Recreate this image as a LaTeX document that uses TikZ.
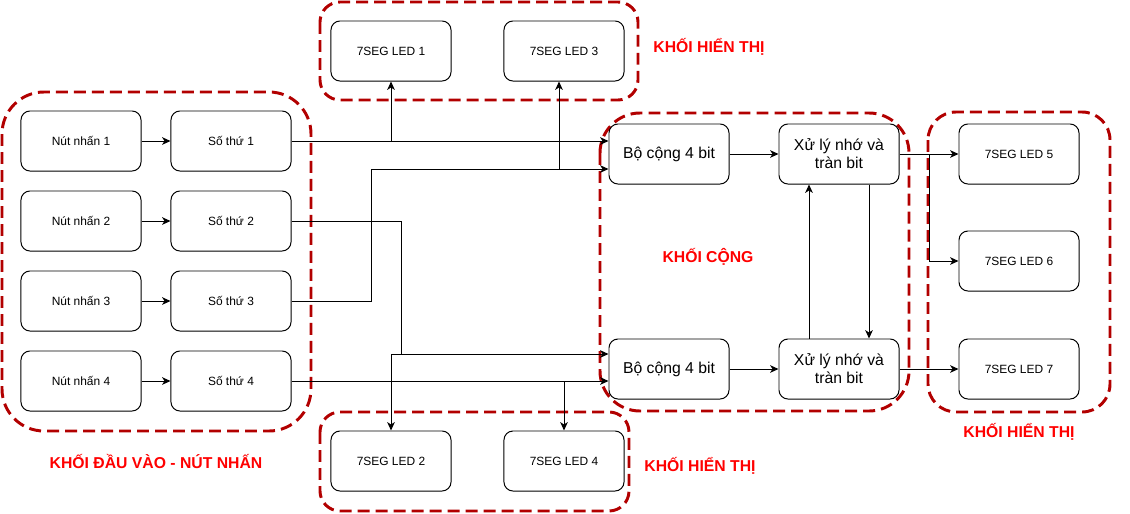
\documentclass[tikz,border=0pt]{standalone}
\usepackage{fontspec}
\setmainfont{Liberation Sans}
\usepackage{tikz}
\usetikzlibrary{arrows.meta, positioning}
\usepackage{xcolor}
\definecolor{grpred}{HTML}{B20000}
\definecolor{labred}{HTML}{FF0000}
\tikzset{
  blk/.style   ={draw, rounded corners=9pt*0.7113, minimum width=3cm,
                 minimum height=1.5cm, inner sep=0pt, line width=0.7pt,
                 font=\fontsize{8.5}{10}\selectfont},
  blkL/.style  ={blk, align=center,
                 font=\fontsize{11.2}{12.8}\selectfont},
  % dashed group frames
  grp/.style   ={draw=grpred, line width=2.1pt,
                 dash pattern=on 8.5pt off 4.3pt},
  grplab/.style={font=\bfseries\fontsize{11.2}{13}\selectfont,
                 text=labred},
  arr/.style   ={-{Stealth[length=2.1mm, width=1.9mm, inset=0.6mm]},
                 line width=0.7pt},
  wire/.style  ={line width=0.7pt},
}

\begin{document}
\begin{tikzpicture}[x=0.025cm, y=-0.025cm]
  \useasboundingbox (0,0) rectangle (1130,513);
  % group frames
  \draw[grp, rounded corners=1.05cm] (2,92) rectangle (311,431);
  \draw[grp, rounded corners=0.5cm]  (320,2) rectangle (638,100);
  \draw[grp, rounded corners=0.5cm]  (320,412) rectangle (629,511);
  \draw[grp, rounded corners=1.0cm]  (600,113) rectangle (909,411);
  \draw[grp, rounded corners=0.7cm]  (928,112) rectangle (1110,412);
  \node[grplab] (tin)  at (156,462)  {KHỐI ĐẦU VÀO - NÚT NHẤN};
  \node[grplab] (ttop) at (709,47)   {KHỐI HIỂN THỊ};
  \node[grplab] (tbot) at (700,466)  {KHỐI HIỂN THỊ};
  \node[grplab] (tadd) at (708,257)  {KHỐI CỘNG};
  \node[grplab] (trgt) at (1019,432) {KHỐI HIỂN THỊ};
  % input blocks
  \foreach \i/\y in {1/141, 2/221, 3/301, 4/381} {
    \node[blk] (n\i) at (81,\y)  {Nút nhấn \i};
    \node[blk] (s\i) at (231,\y) {Số thứ \i};
    \draw[arr] (n\i) -- (s\i);
  }
  % displays
  \node[blk] (led1) at (391,51)   {7SEG LED 1};
  \node[blk] (led3) at (564,51)   {7SEG LED 3};
  \node[blk] (led2) at (391,461)  {7SEG LED 2};
  \node[blk] (led4) at (564,461)  {7SEG LED 4};
  \node[blk] (led5) at (1019,154) {7SEG LED 5};
  \node[blk] (led6) at (1019,261) {7SEG LED 6};
  \node[blk] (led7) at (1019,369) {7SEG LED 7};
  % adder block
  \node[blkL] (add1) at (669,154) {Bộ cộng 4 bit};
  \node[blkL] (add2) at (669,369) {Bộ cộng 4 bit};
  \node[blkL] (xl1)  at (839,154) {Xử lý nhớ và\\tràn bit};
  \node[blkL] (xl2)  at (839,369) {Xử lý nhớ và\\tràn bit};
  % wiring
  \coordinate (j2) at (401,354);
  \coordinate (j3) at (371,169);
  \coordinate (b3) at (559,169);
  \coordinate (j5) at (929,154);
  \draw[arr] (s1.east) -- (s1.east -| add1.west);
  \draw[arr] (led1.south |- s1.east) -- (led1.south);
  \draw[arr] (s3.east) -| (j3) -- (j3 -| add1.west);
  \draw[arr] (b3) -- (b3 |- led3.south);
  \draw[arr] (s2.east) -| (j2) -- (j2 -| add2.west);
  \draw[arr] (j2) -- (led2.north |- j2) -- (led2.north);
  \draw[arr] (s4.east) -- (s4.east -| add2.west);
  \draw[arr] (led4.north |- s4.east) -- (led4.north);
  \draw[arr] (add1) -- (xl1);
  \draw[arr] (add2) -- (xl2);
  \draw[arr] ([xshift=-0.75cm]xl2.north) -- ([xshift=-0.75cm]xl1.south);
  \draw[arr] ([xshift=0.75cm]xl1.south) -- ([xshift=0.75cm]xl2.north);
  \draw[arr] (xl1.east) -- (led5.west);
  \draw[arr] (j5) |- (led6.west);
  \draw[arr] (xl2.east) -- (led7.west);
\end{tikzpicture}
\end{document}
